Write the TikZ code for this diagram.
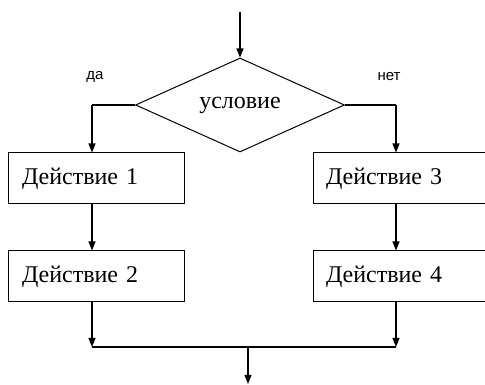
\documentclass[tikz,border=0pt]{standalone}
\usepackage{fontspec}
\setmainfont{Liberation Serif}
\newfontfamily\labelfont{Liberation Sans}
\usepackage{tikz}
\usetikzlibrary{arrows.meta,shapes,positioning}

\begin{document}
\begin{tikzpicture}[x=1pt,y=1pt,
  actbox/.style={draw,line width=1pt,minimum height=51pt,text width=148pt,align=left,inner xsep=14pt,font=\fontsize{24}{27}\selectfont},
  cond/.style={draw,diamond,aspect=2.22,inner sep=0pt,minimum width=209pt,minimum height=94pt,line width=1pt,font=\fontsize{24}{27}\selectfont},
  yesno/.style={font=\labelfont\fontsize{15}{17}\selectfont},
  arr/.style={-{Triangle[length=9pt,width=7pt]},line width=1.1pt}]
\useasboundingbox[fill=white] (0,0) rectangle (485,385);
% Drawing the condition and the actions
\coordinate (start) at (240,373);
\node[cond] (cond) at (240,280) {условие};
\node[actbox] (act1) at (96,206.5) {Действие 1};
\node[actbox] (act2) at (96,108.5) {Действие 2};
\node[actbox,text width=146pt,inner xsep=13pt] (act3) at (399,206.5) {Действие 3};
\node[actbox,text width=146pt,inner xsep=13pt] (act4) at (399,108.5) {Действие 4};
% Columns of the two branches
\coordinate (lcol) at (92,0);
\coordinate (rcol) at (396,0);
\coordinate (merge) at (248,38);
\coordinate (finish) at (248,1);
% Branch labels
\node[yesno] (yes) at (95,308) {да};
\node[yesno] (no) at (389,308) {нет};
% Done with nodes; drawing arrows
\draw[arr] (start) -- (cond.north);
\draw[line width=1.1pt] (cond.west) -- (cond.west -| lcol);
\draw[arr] (cond.west -| lcol) -- (act1.north -| lcol);
\draw[line width=1.1pt] (cond.east) -- (cond.east -| rcol);
\draw[arr] (cond.east -| rcol) -- (act3.north -| rcol);
\draw[arr] (act1.south -| lcol) -- (act2.north -| lcol);
\draw[arr] (act3.south -| rcol) -- (act4.north -| rcol);
\draw[arr] (act2.south -| lcol) -- (merge -| lcol);
\draw[arr] (act4.south -| rcol) -- (merge -| rcol);
\draw[line width=1.1pt] (merge -| lcol) -- (merge -| rcol);
\draw[arr] (merge) -- (finish);
% Done with arrows
\end{tikzpicture}
\end{document}
